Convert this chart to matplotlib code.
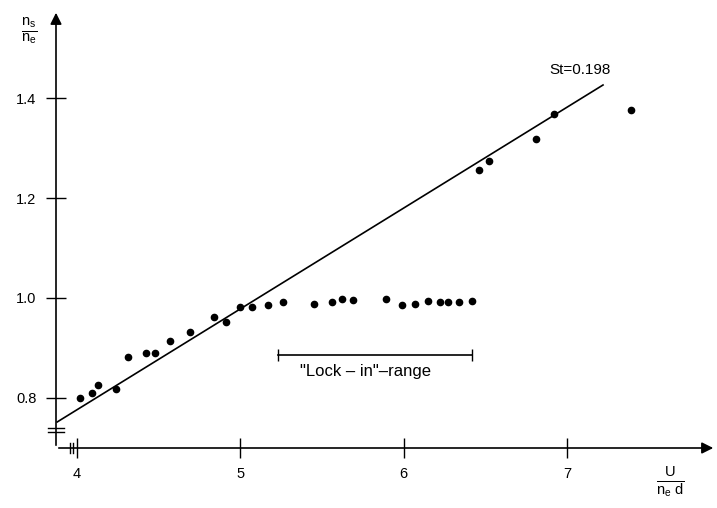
import numpy as np
import matplotlib.pyplot as plt

plt.rcParams['font.family'] = ['Liberation Sans', 'DejaVu Sans']
plt.rcParams['mathtext.fontset'] = 'custom'
plt.rcParams['mathtext.rm'] = 'Liberation Sans'
plt.rcParams['mathtext.it'] = 'Liberation Sans'

# measured points  (U / n_e d , n_s / n_e)
x_pts = [4.02, 4.09, 4.13, 4.24, 4.31, 4.42, 4.48, 4.57, 4.69, 4.84, 4.91,
         5.00, 5.07, 5.17, 5.26, 5.45, 5.56, 5.62, 5.69, 5.89, 5.99, 6.07,
         6.15, 6.22, 6.27, 6.34, 6.42, 6.46, 6.52, 6.81, 6.92, 7.39]
y_pts = [0.799, 0.809, 0.825, 0.818, 0.881, 0.890, 0.889, 0.913, 0.931, 0.961, 0.952,
         0.982, 0.981, 0.985, 0.992, 0.987, 0.991, 0.997, 0.995, 0.997, 0.985, 0.988,
         0.993, 0.991, 0.991, 0.992, 0.993, 1.257, 1.274, 1.318, 1.368, 1.376]

# Strouhal line
st = 0.198
line_x = [3.878, 7.221]
line_y = [0.752, 1.426]

# lock-in range
lock_x = [5.23, 6.42]
lock_y = 0.886

xticks = [4, 5, 6, 7]
yticks = [0.8, 1.0, 1.2, 1.4]
yticklabels = ['0.8', '1.0', '1.2', '1.4']

fig = plt.figure(figsize=(7.17, 5.08), dpi=100)
ax = fig.add_axes([56/717, 60/508, 660/717, 438/508])
ax.set_xlim(3.871, 7.913)
ax.set_ylim(0.70, 1.576)

for s in ax.spines.values():
    s.set_visible(False)

# axes with arrows
ax.annotate('', xy=(1, 0), xytext=(0, 0), xycoords='axes fraction',
            arrowprops=dict(arrowstyle='-|>', color='k', lw=1.2, mutation_scale=17))
ax.annotate('', xy=(0, 1), xytext=(0, 0), xycoords='axes fraction',
            arrowprops=dict(arrowstyle='-|>', color='k', lw=1.2, mutation_scale=17))

ax.set_xticks(xticks)
ax.set_xticklabels([str(t) for t in xticks])
ax.set_yticks(yticks)
ax.set_yticklabels(yticklabels)
ax.tick_params(direction='inout', length=14, width=1, labelsize=10.5, pad=7, colors='k')

ax.plot(line_x, line_y, color='k', lw=1.2)
ax.plot(x_pts, y_pts, 'o', color='k', ms=4.5)

# lock-in range bar
ax.plot(lock_x, [lock_y, lock_y], color='k', lw=1.2, marker='|', ms=9, mew=1)
ax.text(np.mean(lock_x) - 0.06, lock_y - 0.034, '"Lock \u2013 in"\u2013range',
        ha='center', va='center', fontsize=12)

ax.text(7.08, 1.456, 'St=%.3f' % st, ha='center', va='center', fontsize=11)

# axis labels
ax.text(-0.04, 0.95, r'$\frac{n_s}{n_e}$', transform=ax.transAxes,
        ha='center', va='center', fontsize=15)
ax.text(0.93, -0.078, r'$\frac{U}{n_e\ d}$', transform=ax.transAxes,
        ha='center', va='center', fontsize=15)

# axis break marks
for yb in [0.732, 0.740]:
    ax.plot([-0.012, 0.012], [yb, yb], color='k', lw=1, transform=ax.get_yaxis_transform(),
            clip_on=False)
for xb in [3.955, 3.975]:
    ax.plot([xb, xb], [-0.012, 0.012], color='k', lw=1, transform=ax.get_xaxis_transform(),
            clip_on=False)

fig.savefig('out.png', dpi=100)
